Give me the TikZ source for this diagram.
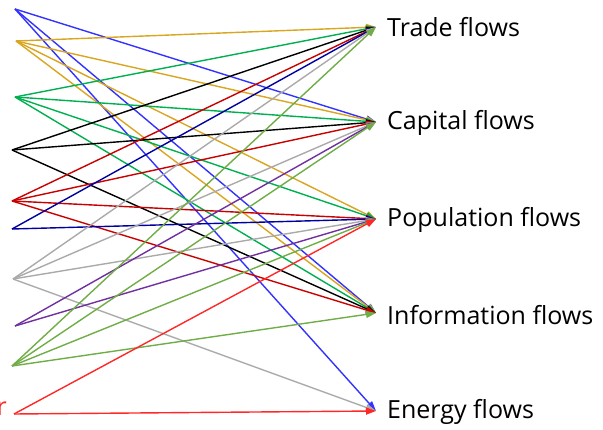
\documentclass[tikz,border=0pt]{standalone}
\usepackage{fontspec}
\setmainfont{Open Sans}
\usetikzlibrary{arrows.meta}

\definecolor{flowblue}{RGB}{51,51,255}
\definecolor{flowgold}{RGB}{218,165,32}
\definecolor{flowgreen}{RGB}{0,176,80}
\definecolor{flowdarkred}{RGB}{200,0,0}
\definecolor{flownavy}{RGB}{0,0,160}
\definecolor{flowgray}{RGB}{170,170,170}
\definecolor{flowpurple}{RGB}{112,48,160}
\definecolor{flowolive}{RGB}{112,173,71}
\definecolor{flowred}{RGB}{255,40,40}

\begin{document}
\begin{tikzpicture}[
        x=1pt, y=-1pt,
        flow_edge/.style={
            line width=1.4pt,
            -{Triangle[length=10pt, width=7pt]}
        },
        flow_label/.style={
            font=\fontsize{25}{29}\selectfont,
            anchor=west,
            inner sep=0pt
        }
    ]
        \useasboundingbox (0,0) rectangle (603,430);
        \def\tipx{376}
        \def\labelx{387}

        % sources on the left
        \coordinate (s_blue) at (15,9);
        \coordinate (s_gold) at (16,41);
        \coordinate (s_green) at (15,97);
        \coordinate (s_black) at (12,150);
        \coordinate (s_darkred) at (12,201);
        \coordinate (s_navy) at (12,229);
        \coordinate (s_gray) at (13,279);
        \coordinate (s_purple) at (15,326);
        \coordinate (s_olive) at (12,366);
        \coordinate (s_red) at (14,414);
        \node[font=\fontsize{25}{29}\selectfont, text=flowred, anchor=base east, inner sep=0pt] (red_cut) at (7,416) {r};

        % flows on the right
        \coordinate (trade) at (\tipx,27);
        \coordinate (capital) at (\tipx,122);
        \coordinate (population) at (\tipx,219);
        \coordinate (information) at (\tipx,313);
        \coordinate (energy) at (\tipx,411);

        \node[flow_label] (trade_label) at (\labelx,27) {Trade flows};
        \node[flow_label] (capital_label) at (\labelx,123) {Capital flows};
        \node[flow_label] (population_label) at (\labelx,220) {Population flows};
        \node[flow_label] (information_label) at (\labelx,315) {Information flows};
        \node[flow_label] (energy_label) at (\labelx,412) {Energy flows};

        \draw[flow_edge, flowblue] (s_blue) -- (capital);
        \draw[flow_edge, flowblue] (s_blue) -- (information);
        \draw[flow_edge, flowblue] (s_blue) -- (energy);

        \draw[flow_edge, flowgold] (s_gold) -- (trade);
        \draw[flow_edge, flowgold] (s_gold) -- (capital);
        \draw[flow_edge, flowgold] (s_gold) -- (population);
        \draw[flow_edge, flowgold] (s_gold) -- (information);

        \draw[flow_edge, flowgreen] (s_green) -- (trade);
        \draw[flow_edge, flowgreen] (s_green) -- (capital);
        \draw[flow_edge, flowgreen] (s_green) -- (population);
        \draw[flow_edge, flowgreen] (s_green) -- (information);

        \draw[flow_edge, black] (s_black) -- (trade);
        \draw[flow_edge, black] (s_black) -- (capital);
        \draw[flow_edge, black] (s_black) -- (information);

        \draw[flow_edge, flowdarkred] (s_darkred) -- (trade);
        \draw[flow_edge, flowdarkred] (s_darkred) -- (capital);
        \draw[flow_edge, flowdarkred] (s_darkred) -- (population);
        \draw[flow_edge, flowdarkred] (s_darkred) -- (information);

        \draw[flow_edge, flownavy] (s_navy) -- (trade);
        \draw[flow_edge, flownavy] (s_navy) -- (population);

        \draw[flow_edge, flowgray] (s_gray) -- (trade);
        \draw[flow_edge, flowgray] (s_gray) -- (capital);
        \draw[flow_edge, flowgray] (s_gray) -- (population);
        \draw[flow_edge, flowgray] (s_gray) -- (energy);

        \draw[flow_edge, flowpurple] (s_purple) -- (capital);
        \draw[flow_edge, flowpurple] (s_purple) -- (population);

        \draw[flow_edge, flowolive] (s_olive) -- (trade);
        \draw[flow_edge, flowolive] (s_olive) -- (capital);
        \draw[flow_edge, flowolive] (s_olive) -- (population);
        \draw[flow_edge, flowolive] (s_olive) -- (information);

        \draw[flow_edge, flowred] (s_red) -- (population);
        \draw[flow_edge, flowred] (s_red) -- (energy);
    \end{tikzpicture}
\end{document}
